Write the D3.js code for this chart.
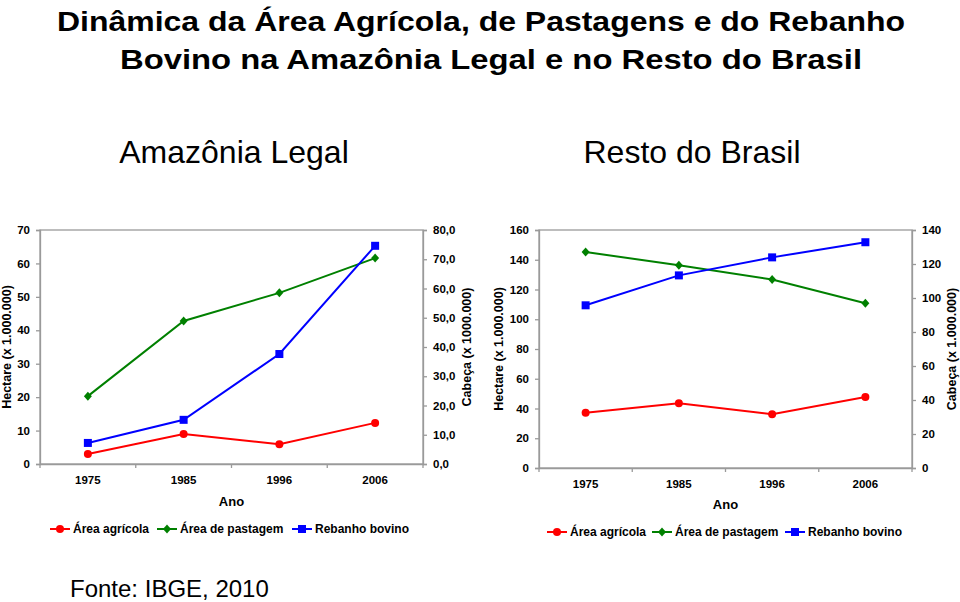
<!DOCTYPE html>
<html><head><meta charset="utf-8">
<script src="https://cdn.jsdelivr.net/npm/d3@7"></script>
<style>
body{margin:0;background:#fff;}
text{font-family:"Liberation Sans",Arial,Helvetica,sans-serif;}
</style></head>
<body>
<svg id="c" width="960" height="602"></svg>
<script>
const years = ["1975","1985","1996","2006"];
const seriesNames = ["Área agrícola","Área de pastagem","Rebanho bovino"];
// Amazônia Legal
const amzAgricola = [3.0, 9.0, 5.9, 12.3];
const amzPastagem = [20.3, 42.8, 51.2, 61.6];
const amzRebanho = [7.2, 15.1, 37.6, 74.6];
const amzLeftTicks = [0,10,20,30,40,50,60,70];
const amzRightTicks = [0,10,20,30,40,50,60,70,80];
// Resto do Brasil
const rbAgricola = [37.2, 43.5, 36.1, 47.7];
const rbPastagem = [145.2, 136.3, 126.7, 110.7];
const rbRebanho = [95.7, 113.3, 123.9, 132.8];
const rbLeftTicks = [0,20,40,60,80,100,120,140,160];
const rbRightTicks = [0,20,40,60,80,100,120,140];

const colors = ["#ff0000","#008000","#0000ff"];
const svg = d3.select("#c");

svg.append("text").attr("x",57).attr("y",31)
  .attr("font-size",28).attr("font-weight","bold")
  .attr("textLength",848).attr("lengthAdjust","spacingAndGlyphs")
  .text("Dinâmica da Área Agrícola, de Pastagens e do Rebanho");
svg.append("text").attr("x",120).attr("y",69)
  .attr("font-size",28).attr("font-weight","bold")
  .attr("textLength",742).attr("lengthAdjust","spacingAndGlyphs")
  .text("Bovino na Amazônia Legal e no Resto do Brasil");
svg.append("text").attr("x",234).attr("y",163).attr("text-anchor","middle")
  .attr("font-size",32).text("Amazônia Legal");
svg.append("text").attr("x",692).attr("y",163).attr("text-anchor","middle")
  .attr("font-size",32).text("Resto do Brasil");
svg.append("text").attr("x",70).attr("y",597).attr("font-size",24).text("Fonte: IBGE, 2010");

function marker(g, type, x, y, c){
  if(type===0) g.append("circle").attr("cx",x).attr("cy",y).attr("r",4).attr("fill",c);
  else if(type===1) g.append("path").attr("d",`M${x},${y-4.5}L${x+4},${y}L${x},${y+4.5}L${x-4},${y}Z`).attr("fill",c);
  else g.append("rect").attr("x",x-4).attr("y",y-4).attr("width",8).attr("height",8).attr("fill",c);
}

function chart(o){
  const g = svg.append("g");
  const x = d3.scaleBand().domain(years).range([o.x0,o.x1]);
  const yL = d3.scaleLinear().domain([0,o.lMax]).range([o.y1,o.y0]);
  const yR = d3.scaleLinear().domain([0,o.rMax]).range([o.y1,o.y0]);
  const gray = "#9a9a9a";
  g.append("rect").attr("x",o.x0).attr("y",o.y0).attr("width",o.x1-o.x0).attr("height",o.y1-o.y0)
    .attr("fill","none").attr("stroke",gray).attr("stroke-width",1.3);
  const la = g.append("g").attr("transform",`translate(${o.x0},0)`)
    .call(d3.axisLeft(yL).tickValues(o.lTicks).tickSize(4).tickPadding(6).tickFormat(o.lFmt));
  const ra = g.append("g").attr("transform",`translate(${o.x1},0)`)
    .call(d3.axisRight(yR).tickValues(o.rTicks).tickSize(4).tickPadding(6).tickFormat(o.rFmt));
  const bounds = d3.range(years.length+1).map(i=>o.x0+i*x.step());
  const xa = g.append("g").attr("transform",`translate(0,${o.y1})`)
    .call(d3.axisBottom(x).tickSize(0).tickPadding(12));
  xa.selectAll(".bt").data(bounds).enter().append("line")
    .attr("x1",d=>d).attr("x2",d=>d).attr("y1",0).attr("y2",4).attr("stroke",gray).attr("stroke-width",1.3);
  [la,ra,xa].forEach(a=>{
    a.attr("font-family",null);
    a.selectAll(".domain").attr("stroke",gray).attr("stroke-width",1.3);
    a.selectAll(".tick line").attr("stroke",gray).attr("stroke-width",1.3);
    a.selectAll("text").attr("font-size",11.5).attr("font-weight","bold").attr("fill","#000");
  });
  g.append("text").attr("transform",`translate(${o.lt},${(o.y0+o.y1)/2}) rotate(-90)`)
    .attr("text-anchor","middle").attr("dy","0.35em").attr("font-size",12.5).attr("font-weight","bold").text(o.lTitle);
  g.append("text").attr("transform",`translate(${o.rt},${(o.y0+o.y1)/2}) rotate(-90)`)
    .attr("text-anchor","middle").attr("dy","0.35em").attr("font-size",12.5).attr("font-weight","bold").text(o.rTitle);
  g.append("text").attr("x",(o.x0+o.x1)/2).attr("y",o.anoY).attr("text-anchor","middle")
    .attr("font-size",13).attr("font-weight","bold").text("Ano");
  const data = [[o.s[0],yL],[o.s[1],yL],[o.s[2],yR]];
  data.forEach(([vals,ys],i)=>{
    const line = d3.line().x((d,j)=>x(years[j])+x.bandwidth()/2).y(d=>ys(d));
    g.append("path").attr("d",line(vals)).attr("fill","none").attr("stroke",colors[i]).attr("stroke-width",2);
    vals.forEach((v,j)=>marker(g,i,x(years[j])+x.bandwidth()/2,ys(v),colors[i]));
  });
  o.leg.forEach((lx,i)=>{
    g.append("line").attr("x1",lx).attr("x2",lx+20).attr("y1",o.legY).attr("y2",o.legY)
      .attr("stroke",colors[i]).attr("stroke-width",2);
    marker(g,i,lx+10,o.legY,colors[i]);
    g.append("text").attr("x",lx+23).attr("y",o.legY).attr("dy","0.35em")
      .attr("font-size",12).attr("font-weight","bold").text(seriesNames[i]);
  });
}

chart({x0:40,x1:423,y0:230,y1:464,lMax:70,rMax:80,lTicks:amzLeftTicks,rTicks:amzRightTicks,
  lFmt:d3.format("d"),rFmt:d=>d3.format(".1f")(d).replace(".",","),
  s:[amzAgricola,amzPastagem,amzRebanho],lTitle:"Hectare (x 1.000.000)",rTitle:"Cabeça (x 1000.000)",
  lt:7,rt:467,anoY:506,legY:529,leg:[50,157,292]});
chart({x0:539,x1:912,y0:230,y1:468,lMax:160,rMax:140,lTicks:rbLeftTicks,rTicks:rbRightTicks,
  lFmt:d3.format("d"),rFmt:d3.format("d"),
  s:[rbAgricola,rbPastagem,rbRebanho],lTitle:"Hectare (x 1.000.000)",rTitle:"Cabeça (x 1.000.000)",
  lt:499,rt:952,anoY:509,legY:532,leg:[547,652,785]});
</script>
</body></html>
